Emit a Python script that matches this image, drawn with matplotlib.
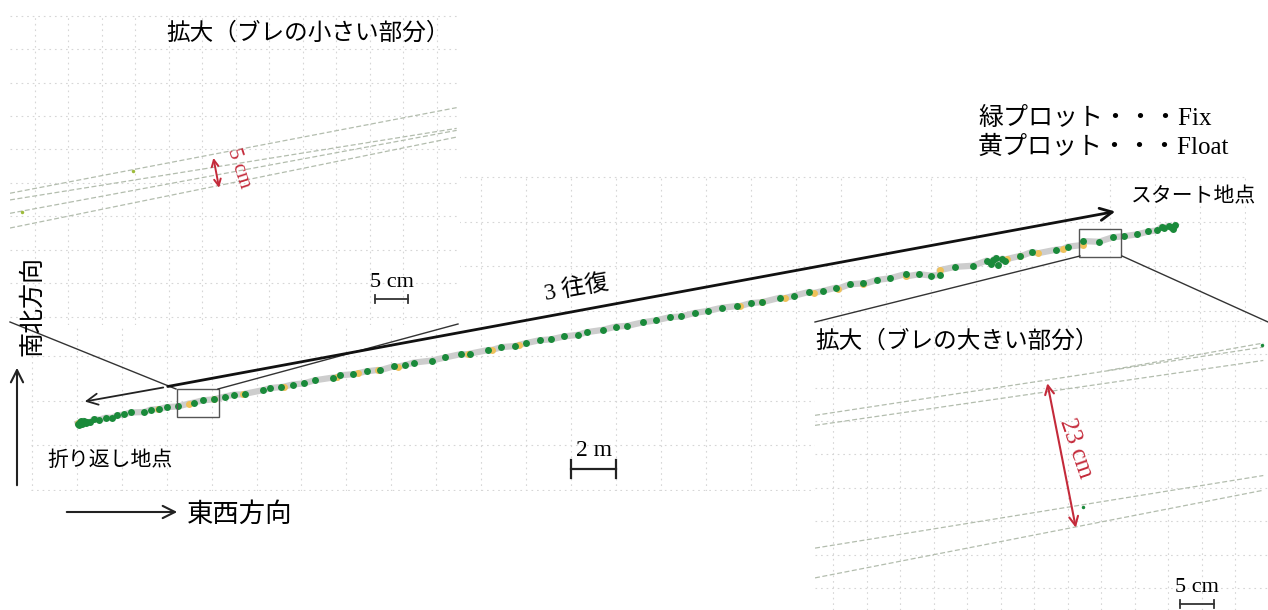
import numpy as np
import matplotlib.pyplot as plt
from matplotlib.patches import Rectangle

plt.rcParams['font.family'] = ['Liberation Serif', 'Noto Sans CJK JP']

# main track, metres (east-west, north-south)
fix_x = [2.05, 2.1, 2.15, 2.2, 2.25, 2.3, 2.4, 2.45, 2.6, 2.75, 3.0, 3.3, 3.55, 3.8, 4.1, 4.4,
         5.0, 5.3, 5.65, 6.0, 6.5, 7.2, 7.6, 8.1, 8.6, 9.0, 9.5, 10.3, 10.6, 11.1, 11.6, 12.1,
         12.6, 13.4, 13.7, 14.3, 14.9, 15.5, 16.1, 16.6, 17.0, 17.8, 18.4, 19.1, 19.5, 20.3,
         20.9, 21.5, 22.0, 22.6, 23.1, 23.7, 24.3, 24.7, 25.4, 26.0, 26.5, 27.2, 27.8, 28.4,
         28.9, 29.5, 30.1, 30.7, 31.4, 32.0, 32.5, 33.3, 33.9, 34.6, 35.2, 35.8, 36.4, 37.0,
         37.6, 38.2, 38.9, 39.5, 40.0, 40.4, 41.1, 41.9, 42.5, 42.7, 42.8, 42.9, 43.0, 43.2,
         43.3, 44.0, 44.5, 45.6, 46.1, 46.8, 47.5, 48.1, 48.6, 49.2, 49.7, 50.1, 50.3, 50.4,
         50.6, 50.7, 50.8, 50.9]
fix_y = [2.95, 2.92, 3.05, 3.08, 2.94, 3.10, 2.98, 3.05, 3.03, 3.17, 3.15, 3.24, 3.23, 3.34,
         3.38, 3.47, 3.49, 3.60, 3.62, 3.71, 3.74, 3.91, 4.01, 4.06, 4.18, 4.27, 4.31, 4.47,
         4.56, 4.61, 4.72, 4.77, 4.91, 5.03, 5.13, 5.18, 5.31, 5.36, 5.53, 5.59, 5.70, 5.79,
         5.93, 6.08, 6.10, 6.26, 6.39, 6.44, 6.57, 6.70, 6.74, 6.87, 6.94, 7.06, 7.16, 7.31,
         7.34, 7.50, 7.59, 7.73, 7.76, 7.92, 8.01, 8.15, 8.23, 8.36, 8.40, 8.60, 8.68, 8.86,
         8.90, 9.05, 9.20, 9.24, 9.39, 9.47, 9.66, 9.65, 9.59, 9.61, 9.98, 10.03, 10.26, 10.12,
         10.30, 10.38, 10.05, 10.35, 10.22, 10.47, 10.64, 10.75, 10.88, 11.13, 11.10, 11.30,
         11.35, 11.43, 11.56, 11.61, 11.78, 11.71, 11.82, 11.74, 11.65, 11.83]
float_x = [2.04, 5.6, 7.0, 8.1, 9.4, 11.2, 13.6, 14.5, 15.4, 16.3, 19.4, 20.5, 21.7, 31.5, 32.5,
           33.5, 34.8, 35.9, 37.0, 38.9, 40.4, 43.4, 44.0, 44.8, 45.9, 46.8]
float_y = [2.98, 3.62, 3.87, 4.06, 4.28, 4.62, 5.05, 5.22, 5.37, 5.52, 6.07, 6.27, 6.49, 8.22,
           8.40, 8.58, 8.81, 9.01, 9.20, 9.55, 9.83, 10.33, 10.45, 10.59, 10.78, 10.96]

# zoomed traces, cm
small_x = [0, 66.7]
small_traces = [[19.7, 32.5], [18.7, 29.4], [16.7, 29.1], [14.5, 28.1]]
small_dots_x = [18.4, 1.8]
small_dots_y = [23.0, 16.9]
large_x = [0, 66.9]
large_traces = [[29.1, 39.3], [27.6, 37.3], [9.25, 20.1], [4.8, 17.9]]
large_short_x = [43.7, 66.9]
large_short_y = [35.8, 39.9]
large_dots_x = [40.0, 66.7]
large_dots_y = [15.4, 39.6]

W, H = 1268, 610
fig = plt.figure(figsize=(W / 100, H / 100), dpi=100)


def px_rect(x0, y0, x1, y1):
    return [x0 / W, 1 - y1 / H, (x1 - x0) / W, (y1 - y0) / H]


def grid_axes(rect, xlim, ylim, xt, yt, z):
    a = fig.add_axes(rect, zorder=z)
    a.set_xlim(*xlim)
    a.set_ylim(*ylim)
    a.set_xticks(xt)
    a.set_yticks(yt)
    a.grid(True, color='#d6d6d6', linestyle=(0, (1.5, 3.5)), linewidth=0.8)
    a.tick_params(length=0, labelbottom=False, labelleft=False)
    for s in a.spines.values():
        s.set_visible(False)
    return a


GREEN = '#1a8a3a'
YELLOW = '#efc15a'
RED = '#c42a3a'

# main plot
ax = grid_axes(px_rect(31, 176, 1246, 491), (-0.04, 54.04), (-0.04, 14.04),
               np.arange(0, 55, 2), np.arange(0, 15, 2), 1)
all_x = np.array(fix_x + float_x)
all_y = np.array(fix_y + float_y)
order = np.argsort(all_x)
ax.plot(all_x[order], all_y[order], color='#cdcdcd', lw=4.5, zorder=2)
ax.plot(float_x, float_y, 'o', color=YELLOW, ms=5, mec='none', zorder=3)
ax.plot(fix_x, fix_y, 'o', color=GREEN, ms=5, mec='none', zorder=4)
ax.add_patch(Rectangle((6.44, 3.29), 1.87, 1.24, fill=False, ec='#555555', lw=1, zorder=5))
ax.add_patch(Rectangle((46.6, 10.44), 1.87, 1.25, fill=False, ec='#555555', lw=1, zorder=5))
ax.plot([24, 26], [0.95, 0.95], color='#222222', lw=1.6)
ax.plot([24, 24], [0.55, 1.35], color='#222222', lw=1.6)
ax.plot([26, 26], [0.55, 1.35], color='#222222', lw=1.6)
ax.text(25, 1.75, '2 m', fontsize=17, ha='center', va='center')

# upper-left zoom (small deviation)
ul = grid_axes(px_rect(10, 15, 460, 325), (0, 67.2), (0, 46.35),
               np.arange(3.7, 67.2, 5), np.arange(46.25, 0, -5), 3)
for tr in small_traces:
    ul.plot(small_x, tr, color='#b3bdae', lw=0.9, linestyle=(0, (4, 2)))
ul.plot(small_dots_x, small_dots_y, 'o', color='#9dbb3a', ms=2.5, mec='none')
ul.annotate('', xy=(31.3, 20.1), xytext=(30.3, 25.4),
            arrowprops=dict(arrowstyle='<->', color=RED, lw=1.4, mutation_scale=12))
ul.text(34.2, 23.5, '5 cm', color=RED, fontsize=15, rotation=-72, ha='center', va='center')
ul.plot([54.5, 59.5], [3.9, 3.9], color='#333333', lw=1.3)
ul.plot([54.5, 54.5], [3.3, 4.5], color='#333333', lw=1.3)
ul.plot([59.5, 59.5], [3.3, 4.5], color='#333333', lw=1.3)
ul.text(57, 6.4, '5 cm', fontsize=16, ha='center', va='center')

# lower-right zoom (large deviation)
lr = grid_axes(px_rect(815, 320, 1268, 610), (0, 67.6), (0, 43.35),
               np.arange(2.7, 67.6, 5), np.arange(43.25, 0, -5), 3)
for tr in large_traces:
    lr.plot(large_x, tr, color='#b3bdae', lw=0.9, linestyle=(0, (4, 2)))
lr.plot(large_short_x, large_short_y, color='#b3bdae', lw=0.9, linestyle=(0, (4, 2)))
lr.plot(large_dots_x, large_dots_y, 'o', color=GREEN, ms=2.5, mec='none')
lr.annotate('', xy=(39.0, 11.9), xytext=(34.6, 34.3),
            arrowprops=dict(arrowstyle='<->', color=RED, lw=1.5, mutation_scale=16))
lr.text(38.9, 24.2, '23 cm', color=RED, fontsize=18, rotation=-71, ha='center', va='center')
lr.plot([54.5, 59.5], [0.9, 0.9], color='#333333', lw=1.3)
lr.plot([54.5, 54.5], [0.3, 1.5], color='#333333', lw=1.3)
lr.plot([59.5, 59.5], [0.3, 1.5], color='#333333', lw=1.3)
lr.text(57, 3.4, '5 cm', fontsize=16, ha='center', va='center')

# overlay in pixel coordinates
ov = fig.add_axes([0, 0, 1, 1], zorder=6)
ov.set_xlim(0, W)
ov.set_ylim(H, 0)
ov.axis('off')
ov.patch.set_alpha(0)

ov.plot([10, 176], [322, 389], color='#333333', lw=1)
ov.plot([218, 458], [389, 324], color='#333333', lw=1)
ov.plot([1080, 815], [256, 322], color='#333333', lw=1)
ov.plot([1122, 1268], [256, 322], color='#333333', lw=1)

ov.annotate('', xy=(1118, 211), xytext=(165, 387),
            arrowprops=dict(arrowstyle='->', color='#111111', lw=2, mutation_scale=22))
ov.annotate('', xy=(82, 402), xytext=(166, 387),
            arrowprops=dict(arrowstyle='->', color='#222222', lw=1.3, mutation_scale=20))
ov.text(577, 289, '3 往復', fontsize=17, rotation=10, ha='center', va='center')

ov.annotate('', xy=(17, 365), xytext=(17, 488),
            arrowprops=dict(arrowstyle='->', color='#222222', lw=1.5, mutation_scale=22))
ov.annotate('', xy=(180, 512), xytext=(64, 512),
            arrowprops=dict(arrowstyle='->', color='#222222', lw=1.5, mutation_scale=22))
ov.text(33, 306, '南北方向', fontsize=18, rotation=90, ha='center', va='center')
ov.text(187, 514, '東西方向', fontsize=19, ha='left', va='center')
ov.text(47, 461, '折り返し地点', fontsize=15, ha='left', va='center')
ov.text(1131, 198, 'スタート地点', fontsize=15, ha='left', va='center')
ov.text(978, 118, '緑プロット・・・Fix', fontsize=18, ha='left', va='center')
ov.text(978, 147, '黄プロット・・・Float', fontsize=18, ha='left', va='center')
ov.text(450, 33, '拡大（ブレの小さい部分）', fontsize=17, ha='right', va='center')
ov.text(815, 341, '拡大（ブレの大きい部分）', fontsize=17, ha='left', va='center')

fig.savefig('out.png', dpi=100)
